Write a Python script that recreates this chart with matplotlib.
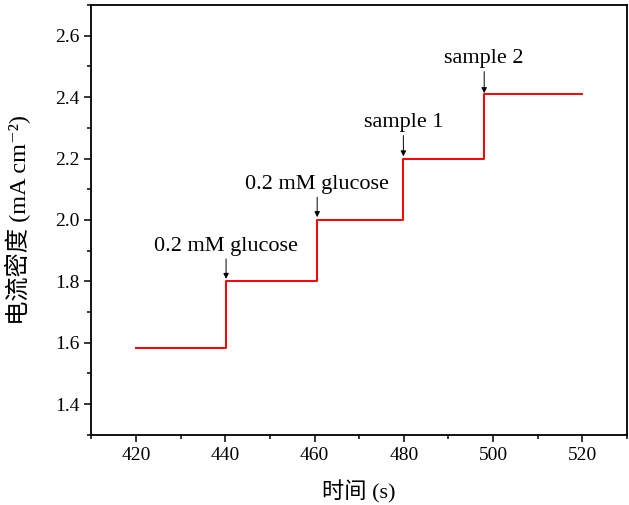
import numpy as np
import matplotlib.pyplot as plt

# step edges (s) and current density plateaus (mA cm-2)
t_edges = [420, 440.2, 460.6, 479.9, 498.0, 520]
j_levels = [1.583, 1.800, 2.000, 2.200, 2.410]

# annotations: label, x of injection, text y, arrow tip y
ann_labels = ["0.2 mM glucose", "0.2 mM glucose", "sample 1", "sample 2"]
ann_x = [440.2, 460.6, 479.9, 498.0]
ann_text_y = [1.915, 2.116, 2.317, 2.525]
ann_tip_y = [1.808, 2.009, 2.207, 2.413]

plt.rcParams['font.family'] = ['Liberation Serif', 'Noto Sans CJK SC', 'DejaVu Serif']

fig = plt.figure(figsize=(6.29, 5.05), dpi=100)
ax = fig.add_axes([0.145, 0.139, 0.852, 0.851])

ax.step(t_edges, j_levels + [j_levels[-1]], where='post', color='#ff0000', lw=1.4)

for lab, x, ty, tip in zip(ann_labels, ann_x, ann_text_y, ann_tip_y):
    ax.text(x, ty, lab, ha='center', va='center', fontsize=16)
    ax.annotate('', xy=(x, tip), xytext=(x, ty - 0.042),
                arrowprops=dict(arrowstyle='-|>', color='black', lw=0.7,
                                mutation_scale=8, shrinkA=0, shrinkB=0))

ax.set_xlim(410, 530)
ax.set_ylim(1.3, 2.7)
ax.set_xticks([420, 440, 460, 480, 500, 520])
ax.set_xticks(np.arange(410, 531, 10), minor=True)
ax.set_yticks([1.4, 1.6, 1.8, 2.0, 2.2, 2.4, 2.6])
ax.set_yticks(np.arange(1.3, 2.71, 0.1), minor=True)
ax.yaxis.set_major_formatter(plt.FormatStrFormatter('%.1f'))

ax.tick_params(which='major', direction='out', length=5, width=1.1, labelsize=14)
ax.tick_params(which='minor', direction='out', length=3, width=1.1)
for s in ax.spines.values():
    s.set_linewidth(1.3)

ax.set_xlabel('时间 (s)', fontsize=16, labelpad=12)
ax.set_ylabel('电流密度 (mA cm⁻²)', fontsize=17.5, labelpad=17)

fig.savefig('out.png', dpi=100)
